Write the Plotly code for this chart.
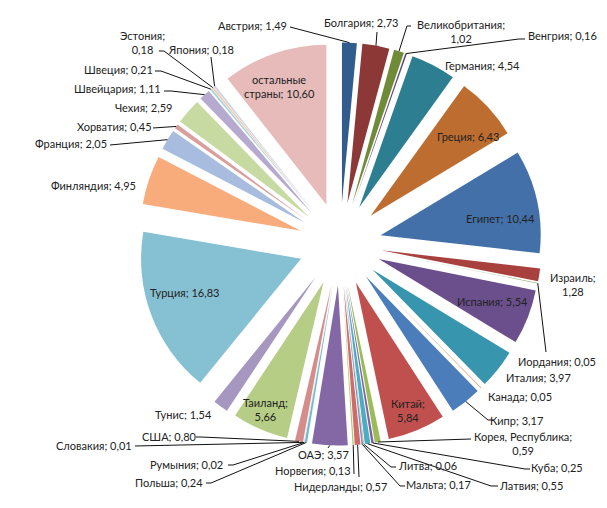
import math
import plotly.graph_objects as go

# ---------------- data ----------------
countries = ["Австрия", "Болгария", "Великобритания", "Венгрия", "Германия", "Греция",
             "Египет", "Израиль", "Иордания", "Испания", "Италия", "Канада", "Кипр",
             "Китай", "Корея, Республика", "Куба", "Латвия", "Литва", "Мальта",
             "Нидерланды", "Норвегия", "ОАЭ", "Польша", "Румыния", "Словакия", "США",
             "Таиланд", "Тунис", "Турция", "Финляндия", "Франция", "Хорватия", "Чехия",
             "Швейцария", "Швеция", "Эстония", "Япония", "остальные страны"]
shares = [1.49, 2.73, 1.02, 0.16, 4.54, 6.43, 10.44, 1.28, 0.05, 5.54, 3.97, 0.05, 3.17,
          5.84, 0.59, 0.25, 0.55, 0.06, 0.17, 0.57, 0.13, 3.57, 0.24, 0.02, 0.01, 0.80,
          5.66, 1.54, 16.83, 4.95, 2.05, 0.45, 2.59, 1.11, 0.21, 0.18, 0.18, 10.60]

# ---------------- styles ----------------
colors = ["#325C8E", "#8C3836", "#6F8B38", "#5C4A7A", "#2E7E92", "#BD6D2F",
          "#4370A8", "#A8403D", "#86A44D", "#6A4F8C", "#3795AE", "#DD8A4A",
          "#4B7DBA", "#BF504D", "#9BBB59", "#8064A2", "#4BACC6", "#F79646",
          "#7196C9", "#CD6C69", "#ADC573", "#8468A6", "#6DBDD1", "#F9A86B",
          "#93AEDB", "#D48D8B", "#B5CD85", "#A597C0", "#86C0D3", "#F9AC7B",
          "#A8BCDF", "#DA9E9C", "#C7DAA2", "#B7AAD0", "#A8D5E2", "#FBC8A6",
          "#C6D4EA", "#E6BBBA"]

W, H = 607, 508
CX, CY = 332, 236
PULL = 0.26
R = 160
HALF = R * (1 + PULL)
FONT = "Lato, 'Noto Sans', sans-serif"
FSIZE = 11

# label placement (pixel centres)
label_pos = {
    "Австрия": (244, 17), "Болгария": (353, 15), "Великобритания": (453, 23),
    "Венгрия": (554, 27), "Германия": (474, 57), "Греция": (460, 128),
    "Египет": (492, 211), "Израиль": (565, 276), "Иордания": (549, 353),
    "Испания": (484, 293), "Италия": (530, 369), "Канада": (512, 388),
    "Кипр": (508, 412), "Китай": (400, 402), "Корея, Республика": (515, 435),
    "Куба": (549, 459), "Латвия": (523, 477), "Литва": (419, 457),
    "Мальта": (430, 476), "Нидерланды": (332, 478), "Норвегия": (305, 462),
    "ОАЭ": (315, 446), "Польша": (161, 474), "Румыния": (178, 456),
    "Словакия": (86, 437), "США": (161, 428), "Таиланд": (257, 401),
    "Тунис": (175, 406), "Турция": (177, 284), "Финляндия": (85, 177),
    "Франция": (63, 136), "Хорватия": (106, 118), "Чехия": (135, 100),
    "Швейцария": (109, 81), "Швеция": (110, 61), "Эстония": (134, 35),
    "Япония": (193, 42), "остальные страны": (271, 79),
}
two_line = {"Великобритания", "Израиль", "Китай", "Корея, Республика", "Таиланд", "Эстония"}

# leader line start (+ optional elbow), pixels; the end is the slice tip
leaders = {
    "Австрия": [(282, 19)], "Болгария": [(369, 24)],
    "Великобритания": [(403, 18), (399, 18)], "Венгрия": [(517, 31), (511, 31)],
    "Иордания": [(538, 344)], "Кипр": [(486, 412), (480, 412)],
    "Корея, Республика": [(463, 431)], "Куба": [(522, 461), (517, 461)],
    "Латвия": [(490, 478), (483, 478)], "Литва": [(388, 459), (383, 459)],
    "Мальта": [(397, 478), (392, 478)], "Нидерланды": [(351, 469)],
    "Норвегия": [(346, 466)], "ОАЭ": [(320, 440)],
    "Польша": [(198, 475), (203, 475)], "Румыния": [(220, 457), (225, 457)],
    "Словакия": [(127, 438)], "США": [(188, 429), (193, 429)],
    "Франция": [(102, 137)], "Хорватия": [(145, 120)],
    "Швейцария": [(156, 83), (163, 83)], "Швеция": [(147, 63), (153, 63)],
    "Эстония": [(151, 43), (156, 43)], "Япония": [(203, 49)],
}


def to_paper(p):
    return p[0] / W, 1 - p[1] / H


def fmt(v):
    return f"{v:.2f}".replace(".", ",")


fig = go.Figure(go.Pie(
    labels=countries, values=shares, sort=False, direction="clockwise", rotation=0,
    pull=[PULL] * len(shares), marker=dict(colors=colors, line=dict(width=0)),
    textinfo="none", hoverinfo="label+value", showlegend=False,
    domain=dict(x=[(CX - HALF) / W, (CX + HALF) / W],
                y=[1 - (CY + HALF) / H, 1 - (CY - HALF) / H]),
))

# slice tips from data
total = sum(shares)
tips = {}
cum = 0.0
for name, v in zip(countries, shares):
    a = (cum + v / 2) / total * 2 * math.pi
    cum += v
    tips[name] = (CX + HALF * math.sin(a), CY - HALF * math.cos(a))

annotations = []
for name, v in zip(countries, shares):
    if name == "остальные страны":
        text = "остальные<br>страны; " + fmt(v)
    elif name in two_line:
        text = f"{name};<br>{fmt(v)}"
    else:
        text = f"{name}; {fmt(v)}"
    x, y = to_paper(label_pos[name])
    annotations.append(dict(x=x, y=y, xref="paper", yref="paper", text=text,
                            showarrow=False, xanchor="center", yanchor="middle",
                            align="center",
                            font=dict(size=FSIZE, color="#222", family=FONT)))

shapes = []
for name, pts in leaders.items():
    path_pts = pts + [tips[name]]
    d = ""
    for i, p in enumerate(path_pts):
        px, py = to_paper(p)
        d += ("M" if i == 0 else " L") + f" {px:.5f},{py:.5f}"
    shapes.append(dict(type="path", path=d, xref="paper", yref="paper",
                       line=dict(color="#111", width=1)))

fig.update_layout(width=W, height=H, margin=dict(l=0, r=0, t=0, b=0),
                  paper_bgcolor="white", plot_bgcolor="white",
                  annotations=annotations, shapes=shapes,
                  font=dict(family=FONT, size=FSIZE))

fig.write_html("out.html")
